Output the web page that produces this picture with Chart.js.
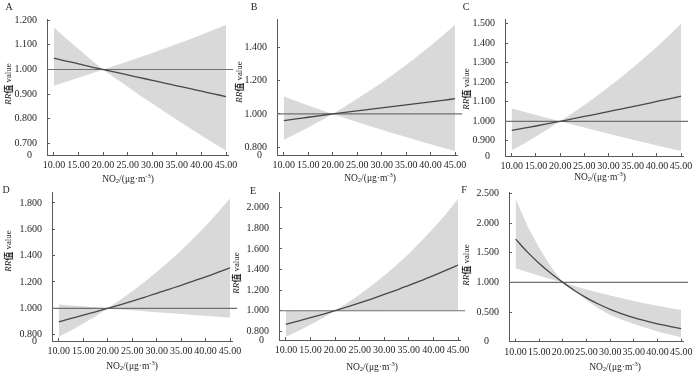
<!DOCTYPE html>
<html>
<head>
<meta charset="utf-8">
<script src="https://cdn.jsdelivr.net/npm/chart.js@4.4.1/dist/chart.umd.min.js"></script>
<style>
  html, body { margin: 0; padding: 0; background: #fff; }
  #wrap { position: relative; width: 700px; height: 375px; overflow: hidden; }
  #wrap canvas { position: absolute; left: 0; top: 0; }
</style>
</head>
<body>
<div id="wrap"></div>
<script>
// ---------------- data ----------------
const xValues = [10, 12.5, 15, 17.5, 20, 22.5, 25, 27.5, 30, 32.5, 35, 37.5, 40, 42.5, 45];
const xTicks = [10, 15, 20, 25, 30, 35, 40, 45];
const panelLetters = ["A", "B", "C", "D", "E", "F"];

const aRR    = [1.046, 1.034, 1.023, 1.011, 1.000, 0.989, 0.978, 0.967, 0.956, 0.945, 0.934, 0.923, 0.912, 0.901, 0.890];
const aUpper = [1.171, 1.126, 1.083, 1.041, 1.000, 1.016, 1.033, 1.050, 1.067, 1.085, 1.104, 1.122, 1.141, 1.161, 1.181];
const aLower = [0.934, 0.950, 0.967, 0.983, 1.000, 0.965, 0.930, 0.895, 0.862, 0.829, 0.796, 0.764, 0.732, 0.701, 0.671];
const aTicks = [0.7, 0.8, 0.9, 1.0, 1.1, 1.2];

const bRR    = [0.960, 0.970, 0.980, 0.990, 1.000, 1.009, 1.018, 1.027, 1.036, 1.045, 1.054, 1.063, 1.072, 1.081, 1.091];
const bUpper = [1.104, 1.077, 1.051, 1.025, 1.000, 1.044, 1.090, 1.138, 1.187, 1.239, 1.293, 1.349, 1.408, 1.469, 1.534];
const bLower = [0.845, 0.881, 0.919, 0.959, 1.000, 0.975, 0.951, 0.928, 0.905, 0.883, 0.861, 0.839, 0.818, 0.798, 0.778];
const bTicks = [0.8, 1.0, 1.2, 1.4];

const cRR    = [0.953, 0.965, 0.976, 0.988, 1.000, 1.012, 1.025, 1.037, 1.050, 1.063, 1.075, 1.088, 1.102, 1.115, 1.129];
const cUpper = [1.066, 1.049, 1.032, 1.016, 1.000, 1.042, 1.084, 1.129, 1.176, 1.224, 1.275, 1.328, 1.383, 1.440, 1.500];
const cLower = [0.850, 0.885, 0.922, 0.960, 1.000, 0.984, 0.968, 0.952, 0.936, 0.921, 0.906, 0.891, 0.876, 0.862, 0.848];
const cTicks = [0.9, 1.0, 1.1, 1.2, 1.3, 1.4, 1.5];

const dRR    = [0.898, 0.923, 0.948, 0.974, 1.000, 1.027, 1.055, 1.084, 1.113, 1.144, 1.175, 1.207, 1.239, 1.273, 1.308];
const dUpper = [1.030, 1.022, 1.015, 1.007, 1.000, 1.063, 1.129, 1.200, 1.275, 1.355, 1.439, 1.530, 1.625, 1.727, 1.835];
const dLower = [0.785, 0.832, 0.885, 0.940, 1.000, 0.992, 0.985, 0.978, 0.971, 0.964, 0.957, 0.950, 0.944, 0.937, 0.930];
const dTicks = [0.8, 1.0, 1.2, 1.4, 1.6, 1.8];

const eRR    = [0.868, 0.900, 0.932, 0.965, 1.000, 1.037, 1.076, 1.116, 1.158, 1.201, 1.245, 1.292, 1.340, 1.391, 1.444];
const eUpper = [1.004, 1.003, 1.002, 1.001, 1.000, 1.076, 1.158, 1.247, 1.342, 1.444, 1.554, 1.673, 1.800, 1.937, 2.085];
const eLower = [0.748, 0.804, 0.865, 0.930, 1.000, 1.000, 1.001, 1.001, 1.002, 1.002, 1.003, 1.003, 1.004, 1.004, 1.005];
const eTicks = [0.8, 1.0, 1.2, 1.4, 1.6, 1.8, 2.0];

const fRR    = [1.730, 1.510, 1.320, 1.150, 1.000, 0.860, 0.740, 0.635, 0.545, 0.470, 0.405, 0.350, 0.300, 0.260, 0.222];
const fUpper = [2.410, 1.950, 1.580, 1.260, 1.000, 0.939, 0.882, 0.829, 0.779, 0.732, 0.687, 0.646, 0.606, 0.570, 0.535];
const fLower = [1.240, 1.175, 1.114, 1.055, 1.000, 0.850, 0.700, 0.565, 0.450, 0.370, 0.300, 0.235, 0.170, 0.120, 0.075];
const fTicks = [0, 0.5, 1.0, 1.5, 2.0, 2.5];

// ---------------- layout / style ----------------
const X_MIN = 8.6, X_MAX = 45.4, REF_END = 46.45;
const Y_W = 40, X_H = 30;
const SERIF = "'Liberation Serif', 'Times New Roman', serif";
const TXT = "#262626", AXIS = "#5a5a5a";

const panels = [
  { rr: aRR, up: aUpper, lo: aLower, ticks: aTicks, yMin: 0.653, yMax: 1.205, broken: true,
    area: { left: 47, right: 228, top: 6, bottom: 155 }, letterAt: [9, 7], yTitleAt: [9, 84], xTitleAt: [128, 179] },
  { rr: bRR, up: bUpper, lo: bLower, ticks: bTicks, yMin: 0.754, yMax: 1.568, broken: true,
    area: { left: 277, right: 457, top: 6, bottom: 155 }, letterAt: [254, 7], yTitleAt: [240, 82], xTitleAt: [370, 178] },
  { rr: cRR, up: cUpper, lo: cLower, ticks: cTicks, yMin: 0.822, yMax: 1.525, broken: true,
    area: { left: 505, right: 686.5, top: 7, bottom: 156 }, letterAt: [466, 7], yTitleAt: [467, 89], xTitleAt: [600, 177] },
  { rr: dRR, up: dUpper, lo: dLower, ticks: dTicks, yMin: 0.752, yMax: 1.883, broken: true,
    area: { left: 52, right: 232, top: 192, bottom: 341 }, letterAt: [6, 190], yTitleAt: [9, 251], xTitleAt: [132, 366] },
  { rr: eRR, up: eUpper, lo: eLower, ticks: eTicks, yMin: 0.716, yMax: 2.152, broken: true,
    area: { left: 279, right: 460, top: 192, bottom: 340 }, letterAt: [253, 191], yTitleAt: [237, 273], xTitleAt: [372, 367] },
  { rr: fRR, up: fUpper, lo: fLower, ticks: fTicks, yMin: 0, yMax: 2.524, broken: false,
    area: { left: 509, right: 689, top: 192, bottom: 341.7 }, letterAt: [464, 190], yTitleAt: [467, 265], xTitleAt: [615, 367] }
];

function drawPieces(ctx, pieces, cx, cy) {
  let total = 0;
  pieces.forEach(p => { ctx.font = p.font; p.w = ctx.measureText(p.text).width; total += p.w; });
  let x = cx - total / 2;
  pieces.forEach(p => {
    ctx.font = p.font;
    ctx.fillText(p.text, x, cy + (p.dy || 0));
    x += p.w;
  });
}

function textPlugin(p, letter) {
  return {
    id: "panelText",
    afterDraw(chart) {
      const ctx = chart.ctx;
      ctx.save();
      ctx.fillStyle = TXT;
      ctx.textBaseline = "middle";
      ctx.textAlign = "center";
      ctx.font = "10px " + SERIF;
      ctx.fillText(letter, p.letterAt[0], p.letterAt[1]);

      ctx.textAlign = "left";
      // x title: NO2/(μg·m-3)
      drawPieces(ctx, [
        { text: "NO", font: "9.5px " + SERIF },
        { text: "2", font: "6.5px " + SERIF, dy: 2.5 },
        { text: "/(μg·m", font: "9.5px " + SERIF },
        { text: "-3", font: "6.5px " + SERIF, dy: -3 },
        { text: ")", font: "9.5px " + SERIF }
      ], p.xTitleAt[0], p.xTitleAt[1]);

      // y title: RR值 value
      ctx.translate(p.yTitleAt[0], p.yTitleAt[1]);
      ctx.rotate(-Math.PI / 2);
      drawPieces(ctx, [
        { text: "RR", font: "italic 9px " + SERIF },
        { text: "值", font: "bold 9px 'Noto Sans CJK SC'" },
        { text: " value", font: "9px " + SERIF }
      ], 0, 0);
      ctx.restore();
    }
  };
}

const wrap = document.getElementById("wrap");

panels.forEach((p, k) => {
  const canvas = document.createElement("canvas");
  canvas.width = 700;
  canvas.height = 375;
  wrap.appendChild(canvas);

  const pts = arr => xValues.map((x, i) => ({ x: x, y: arr[i] }));

  new Chart(canvas, {
    type: "line",
    data: {
      datasets: [
        { data: pts(p.rr), borderColor: "#474747", borderWidth: 1.3, pointRadius: 0,
          cubicInterpolationMode: "monotone", fill: false },
        { data: [{ x: X_MIN, y: 1 }, { x: REF_END, y: 1 }], borderColor: "#707070", borderWidth: 1.2,
          pointRadius: 0, fill: false, clip: false },
        { data: pts(p.up), borderColor: "rgba(0,0,0,0)", borderWidth: 0, pointRadius: 0, tension: 0,
          backgroundColor: "#d9d9d9", fill: "+1" },
        { data: pts(p.lo), borderColor: "rgba(0,0,0,0)", borderWidth: 0, pointRadius: 0, tension: 0, fill: false }
      ]
    },
    options: {
      responsive: false,
      animation: false,
      events: [],
      layout: {
        padding: {
          left: p.area.left - Y_W,
          right: 700 - p.area.right,
          top: p.area.top,
          bottom: 375 - p.area.bottom - X_H
        }
      },
      plugins: { legend: { display: false }, tooltip: { enabled: false } },
      scales: {
        x: {
          type: "linear",
          min: X_MIN,
          max: X_MAX,
          afterBuildTicks: s => { s.ticks = xTicks.map(v => ({ value: v })); },
          afterFit: s => { s.height = X_H; },
          grid: { drawOnChartArea: false, tickLength: -3, color: AXIS, lineWidth: 1 },
          border: { color: AXIS, width: 1 },
          ticks: { padding: 7.5, color: TXT, font: { family: SERIF, size: 10 }, maxRotation: 0,
                   autoSkip: false, callback: v => v.toFixed(2) }
        },
        y: {
          type: "linear",
          min: p.yMin,
          max: p.yMax,
          afterBuildTicks: s => {
            s.ticks = (p.broken ? [p.yMin] : []).concat(p.ticks).map(v => ({ value: v }));
          },
          afterFit: s => { s.width = Y_W; },
          grid: { drawOnChartArea: false, tickLength: -3, color: AXIS, lineWidth: 1 },
          border: { color: AXIS, width: 1 },
          ticks: {
            padding: 13, color: TXT, font: { family: SERIF, size: 10 }, autoSkip: false,
            callback: (v, i) => {
              if (p.broken && i === 0) return "0  ";
              if (v === 0) return "0    ";
              return v.toFixed(3);
            }
          }
        }
      }
    },
    plugins: [textPlugin(p, panelLetters[k])]
  });
});
</script>
</body>
</html>
